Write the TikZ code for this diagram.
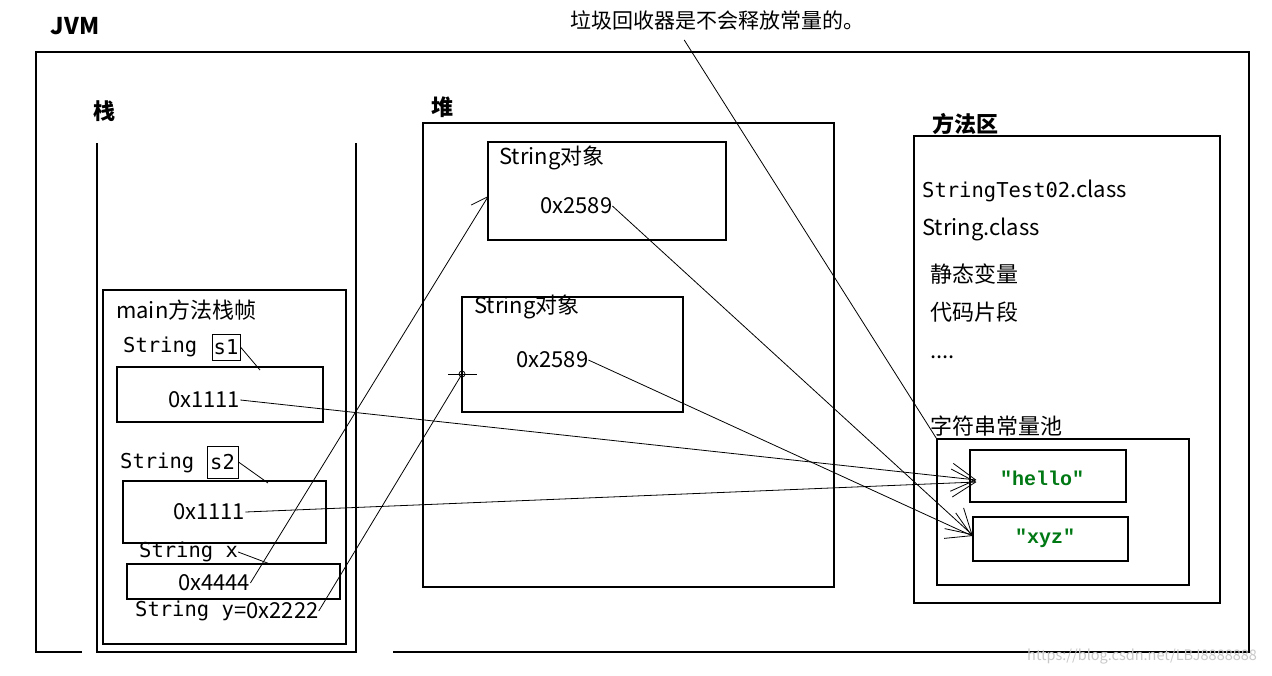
\documentclass[tikz,border=0pt]{standalone}
\usepackage{fontspec}
\setmainfont{Noto Sans CJK SC}
\newfontfamily\monof{DejaVu Sans Mono}
\newfontfamily\codef{Liberation Mono}
\usetikzlibrary{arrows.meta}
\definecolor{codegreen}{RGB}{0,120,20}
\definecolor{wmgray}{RGB}{200,200,200}
\begin{document}
\begin{tikzpicture}[x=1pt,y=-1pt,
  box/.style={draw,line width=1.1pt,inner sep=0pt},
  txt/.style={inner sep=0pt,anchor=west,font=\fontsize{22}{26}\selectfont},
  mtxt/.style={inner sep=0pt,anchor=west,font=\monof\fontsize{20.5}{24}\selectfont},
  ttl/.style={inner sep=0pt,font=\bfseries\fontsize{22}{26}\selectfont},
  conn/.style={line width=0.8pt},
  arr/.style={conn,-{Straight Barb[length=24pt,width=28pt,line width=0.8pt]}},
  sarr/.style={conn,-{Straight Barb[length=16pt,width=20pt,line width=0.8pt]}},
  lbl/.style={draw,line width=1pt,inner sep=1pt,minimum width=28pt,minimum height=28pt,font=\monof\fontsize{20.5}{24}\selectfont}
]
\useasboundingbox (0,0) rectangle (1272,675);
\fill[white] (0,0) rectangle (1272,675);

% JVM outer frame (with gaps at bottom)
\draw[line width=1.3pt] (82,652) -- (36,652) -- (36,52) -- (1249,52) -- (1249,652) -- (393,652);
\node[ttl,font=\bfseries\fontsize{23}{26}\selectfont] (jvm) at (75,26) {JVM};

% top remark
\node[txt,font=\fontsize{21}{25}\selectfont] (gc) at (570,20) {垃圾回收器是不会释放常量的。};

% stack
\node[ttl] (stk) at (104,111) {栈};
\draw[line width=1.3pt] (97,143) -- (97,652) -- (356,652) -- (356,143);
\node[box,minimum width=243pt,minimum height=354pt] (frame) at (224.5,467) {};
\node[txt] (mainlbl) at (116,310) {main方法栈帧};

\node[mtxt] (t1) at (123,347) {String};
\node[lbl,minimum width=28pt,minimum height=26pt] (s1) at (226,347) {s1};
\node[box,minimum width=206pt,minimum height=55pt] (b1) at (220,394.5) {};
\node[txt] (v1) at (168,400) {0x1111};

\node[mtxt] (t2) at (120,463) {String};
\node[lbl,minimum width=31pt,minimum height=32pt] (s2) at (222.5,462) {s2};
\node[box,minimum width=203pt,minimum height=62pt] (b2) at (224.5,512) {};
\node[txt] (v2) at (173,512) {0x1111};

\node[mtxt] (tx) at (139,552) {String x};
\node[box,minimum width=213pt,minimum height=35pt] (b4) at (233.5,581.5) {};
\node[txt] (v4) at (178,583) {0x4444};

\node[mtxt] (ty) at (135,611) {String y};
\node[txt] (vy) at (ty.east) {=0x2222};

\coordinate (e1) at (260,370);
\coordinate (e2) at (268,483);
\coordinate (e3) at (270,564);
\draw[conn] (s1.east) -- (e1);
\draw[conn] (s2.east) -- (e2);
\draw[conn] (tx.east) -- (e3);

% heap
\node[ttl] (heaplbl) at (442,107) {堆};
\node[box,minimum width=411pt,minimum height=464pt] (heap) at (628.5,355) {};
\node[box,minimum width=238pt,minimum height=98pt] (o1) at (607,191) {};
\node[txt] (o1t) at (499,158) {String对象};
\node[txt] (h1) at (540,206) {0x2589};
\node[box,minimum width=221pt,minimum height=115pt] (o2) at (572.5,354.5) {};
\node[txt] (o2t) at (474,307) {String对象};
\node[txt] (h2) at (516,360) {0x2589};
\coordinate (cr) at (462,374);
\draw[line width=0.8pt] (448,374) -- (477,374);
\draw[line width=0.8pt] (cr) circle (3pt);

% method area
\node[ttl] (malbl) at (965,124) {方法区};
\node[box,minimum width=306pt,minimum height=467pt] (ma) at (1067,369.5) {};
\node[txt] (m1) at (922,191) {{\monof\fontsize{20.5}{24}\selectfont StringTest02}.class};
\node[txt] (m2) at (922,229) {String.class};
\node[txt] (m3) at (930,274) {静态变量};
\node[txt] (m4) at (930,312) {代码片段};
\node[txt,anchor=base west] (m5) at (930,358) {....};
\node[txt] (m6) at (930,426) {字符串常量池};
\node[box,minimum width=252pt,minimum height=146pt] (pool) at (1063,512) {};
\node[box,minimum width=156pt,minimum height=52pt] (hello) at (1048,476) {};
\node[font=\codef\bfseries\fontsize{20}{24}\selectfont,text=codegreen,inner sep=0pt] (helloT) at (1042,478) {"hello"};
\node[box,minimum width=155pt,minimum height=44pt] (xyz) at (1050.5,539) {};
\node[font=\codef\bfseries\fontsize{20}{24}\selectfont,text=codegreen,inner sep=0pt] (xyzT) at (1045,538) {"xyz"};

% connectors
\coordinate (gcfoot) at ([shift={(-33,10)}]gc.south);
\draw[arr] (v1.east) -- ([shift={(7,4)}]hello.west);
\draw[arr] (v2.east) -- ([shift={(7,6)}]hello.west);
\draw[sarr] (v4.east) -- ([shift={(1,5)}]o1.west);
\draw[conn] (vy.east) -- (cr);
\draw[arr] (h1.east) -- ([shift={(0,-4)}]xyz.west);
\draw[arr] (h2.east) -- ([shift={(0,-3)}]xyz.west);
\draw[conn] (gcfoot) -- (pool.north west);

% watermark
\node[txt,font=\fontsize{14.5}{17}\selectfont,text=wmgray] (wm) at (1027,657) {https://blog.csdn.net/LBJ8888888};
\end{tikzpicture}
\end{document}
